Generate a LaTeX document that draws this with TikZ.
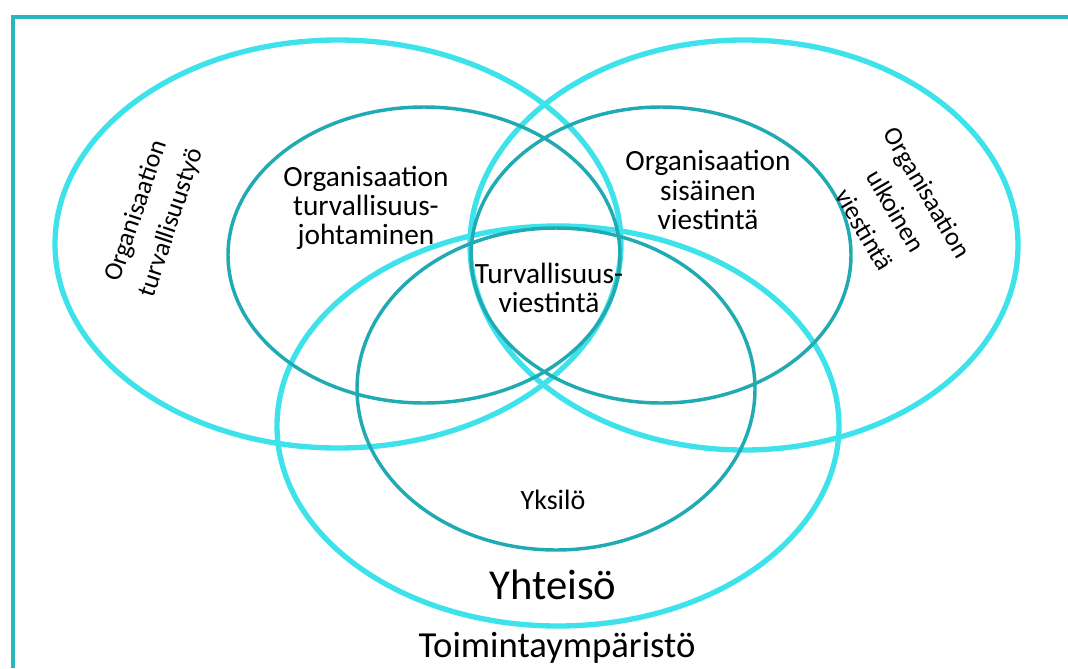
\documentclass[tikz,border=0pt]{standalone}
\usepackage{fontspec}
\setmainfont{Carlito}
\usetikzlibrary{positioning}

\definecolor{framecol}{RGB}{41,182,192}
\definecolor{outercol}{RGB}{62,226,234}
\definecolor{innercol}{RGB}{32,170,178}

\begin{document}
\begin{tikzpicture}[x=0.75pt, y=-0.75pt,
    outerring/.style={draw=outercol, line width=4pt},
    innerring/.style={draw=innercol, line width=2.6pt},
    lbl/.style={align=center, inner sep=0pt, font=\fontsize{22}{22}\selectfont},
    sidelbl/.style={align=center, inner sep=0pt, font=\fontsize{19.5}{27.5}\selectfont}
]
    \useasboundingbox (0,0) rectangle (1068,668);
    \draw[framecol, line width=3pt] (13,668) -- (13,17) -- (1068,17);
    % outer rings
    \draw[outerring] (338,244) ellipse [x radius=283, y radius=204];
    \draw[outerring] (744,245) ellipse [x radius=274, y radius=205];
    \draw[outerring] (558,426) ellipse [x radius=281, y radius=200];
    % inner rings
    \draw[innerring] (424,255) ellipse [x radius=196, y radius=148];
    \draw[innerring] (661,255) ellipse [x radius=190, y radius=148];
    \draw[innerring] (556,389) ellipse [x radius=199, y radius=161];
    % texts
    \node[sidelbl, rotate=71.5] (tyo) at (154,217) {Organisaation\\turvallisuustyö};
    \node[sidelbl, rotate=-59.5] (ulkoinen) at (896,211) {Organisaation\\ulkoinen\\viestintä};
    \node[lbl] (johto) at (366,208) {Organisaation\\turvallisuus-\\johtaminen};
    \node[lbl] (sisainen) at (708,190) {Organisaation\\sisäinen\\viestintä};
    \node[lbl] (viestinta) at (549,288) {Turvallisuus-\\viestintä};
    \node[lbl, font=\fontsize{21}{21}\selectfont] (yksilo) at (553,500) {Yksilö};
    \node[lbl, font=\fontsize{32}{32}\selectfont] (yhteiso) at (553,585) {Yhteisö};
    \node[lbl, font=\fontsize{27.5}{27.5}\selectfont] (ymparisto) at (557,648) {Toimintaympäristö};
\end{tikzpicture}
\end{document}
